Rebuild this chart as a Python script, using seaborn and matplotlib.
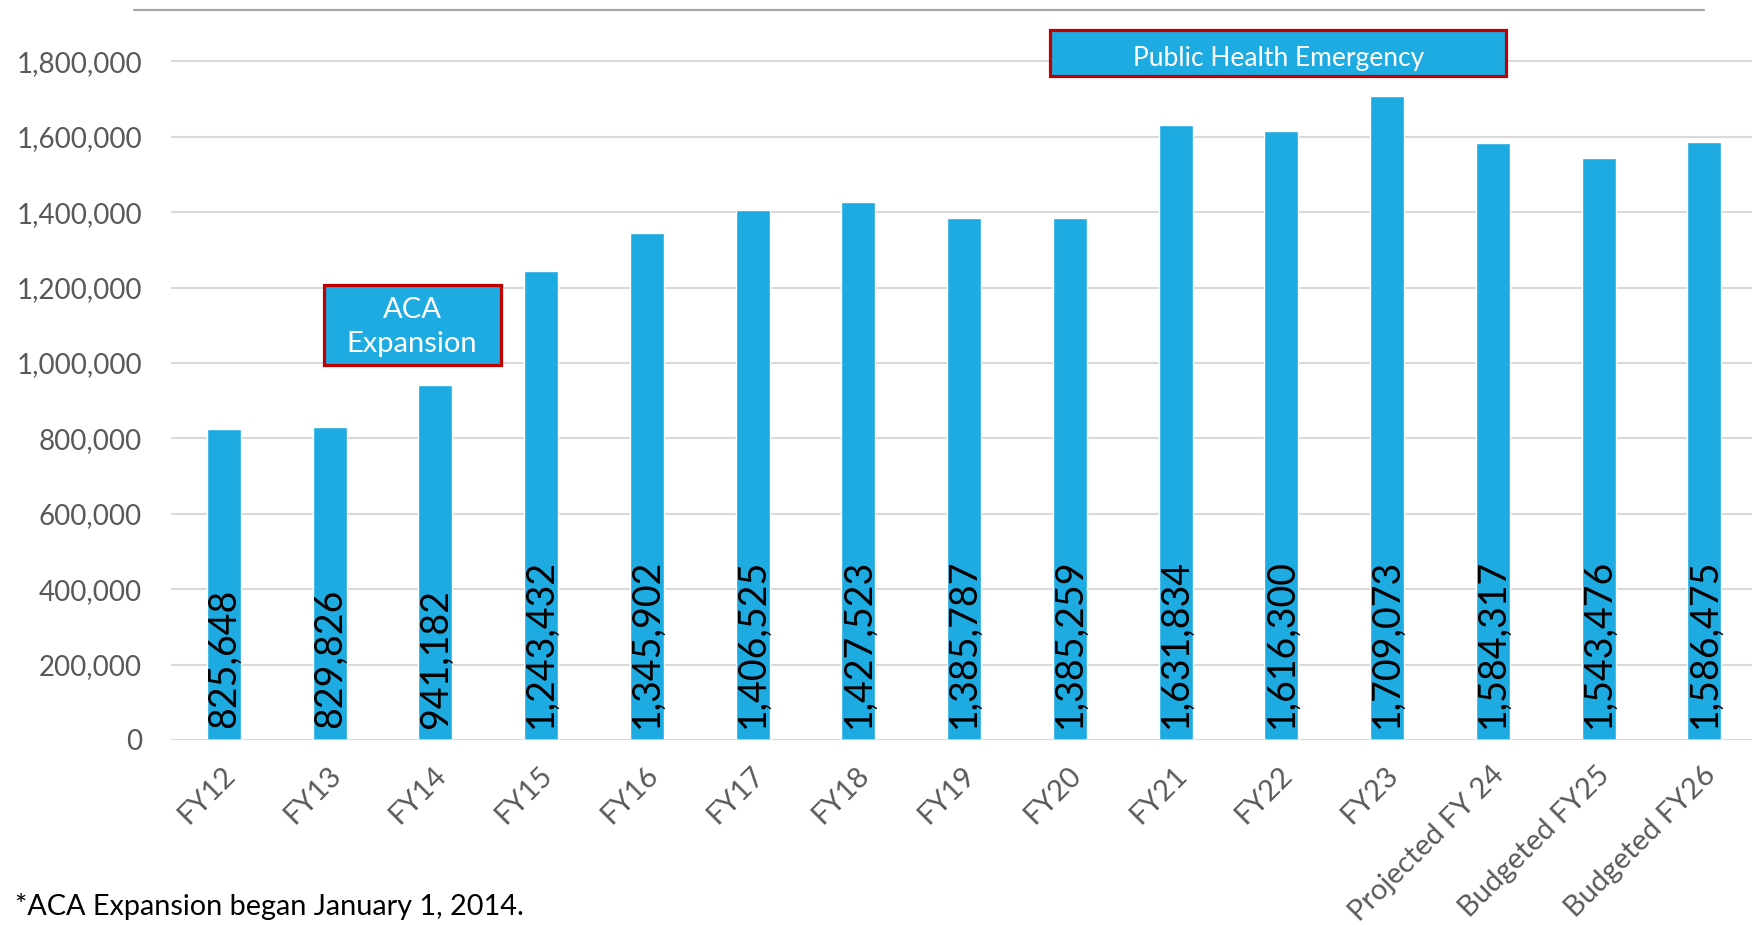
import matplotlib
matplotlib.use("Agg")
import matplotlib.pyplot as plt
import matplotlib.transforms as mtransforms
import seaborn as sns
from matplotlib.patches import Rectangle
from matplotlib.lines import Line2D

# data
years = ["FY12", "FY13", "FY14", "FY15", "FY16", "FY17", "FY18", "FY19", "FY20",
         "FY21", "FY22", "FY23", "Projected FY 24", "Budgeted FY25", "Budgeted FY26"]
enrollment = [825648, 829826, 941182, 1243432, 1345902, 1406525, 1427523, 1385787,
              1385259, 1631834, 1616300, 1709073, 1584317, 1543476, 1586475]
yticks = [0, 200000, 400000, 600000, 800000, 1000000, 1200000, 1400000, 1600000, 1800000]

bar_color = "#1EABE2"
red = "#C00000"
grey_txt = "#595959"

sns.set_style("white")
plt.rcParams["font.family"] = ["Lato", "DejaVu Sans"]

fig = plt.figure(figsize=(17.52, 9.25), dpi=100)
ax = fig.add_axes([171 / 1752, 0.2, 1 - 171 / 1752, (740 - 9) / 925])

sns.barplot(x=years, y=enrollment, color=bar_color, saturation=1, width=0.32, ax=ax, zorder=3)

ax.set_xlim(-0.5, 14.45)
ax.set_ylim(0, 1.939e6)
ax.set_yticks(yticks)
ax.set_yticklabels([f"{v:,}" for v in yticks])
ax.yaxis.grid(True, color="#d9d9d9", linewidth=1.5, zorder=0)
ax.set_axisbelow(True)
for s in ax.spines.values():
    s.set_visible(False)
ax.axhline(0, color="#d9d9d9", linewidth=1.8, zorder=4)
ax.tick_params(axis="y", length=0, pad=21, labelsize=20, labelcolor=grey_txt)
ax.tick_params(axis="x", length=0, pad=22, labelsize=21, labelcolor=grey_txt)
shift = mtransforms.ScaledTranslation(5 / 72, 0, fig.dpi_scale_trans)
for lab in ax.get_xticklabels():
    lab.set_rotation(45)
    lab.set_ha("right")
    lab.set_va("center")
    lab.set_rotation_mode("anchor")
    lab.set_transform(lab.get_transform() + shift)
ax.set_xlabel("")
ax.set_ylabel("")

# value labels, vertical, at the base of each bar
for i, v in enumerate(enrollment):
    ax.annotate(f"{v:,}", xy=(i, 0), xytext=(0, 9), textcoords="offset points",
                rotation=90, ha="center", va="bottom", fontsize=27, color="black", zorder=5)

# callout boxes
ax.add_patch(Rectangle((0.951, 995000), 1.665, 212000, facecolor=bar_color,
                       edgecolor=red, linewidth=2.3, zorder=6))
ax.text(1.78, 1095000, "ACA\nExpansion", ha="center", va="center", color="white",
        fontsize=21, linespacing=1.4, zorder=7)
ax.add_patch(Rectangle((7.816, 1761000), 4.311, 122000, facecolor=bar_color,
                       edgecolor=red, linewidth=2.3, zorder=6, clip_on=False))
ax.text(9.97, 1808000, "Public Health Emergency", ha="center", va="center", color="white",
        fontsize=19, zorder=7)

# top rule and footnote
fig.add_artist(Line2D([134 / 1752, 1704 / 1752], [1 - 10 / 925, 1 - 10 / 925],
                      color="#a6a6a6", linewidth=1.6))
fig.text(15 / 1752, 1 - 906 / 925, "*ACA Expansion began January 1, 2014.",
         ha="left", va="center", fontsize=20.8, color="black")

fig.savefig("out.png", dpi=100)
